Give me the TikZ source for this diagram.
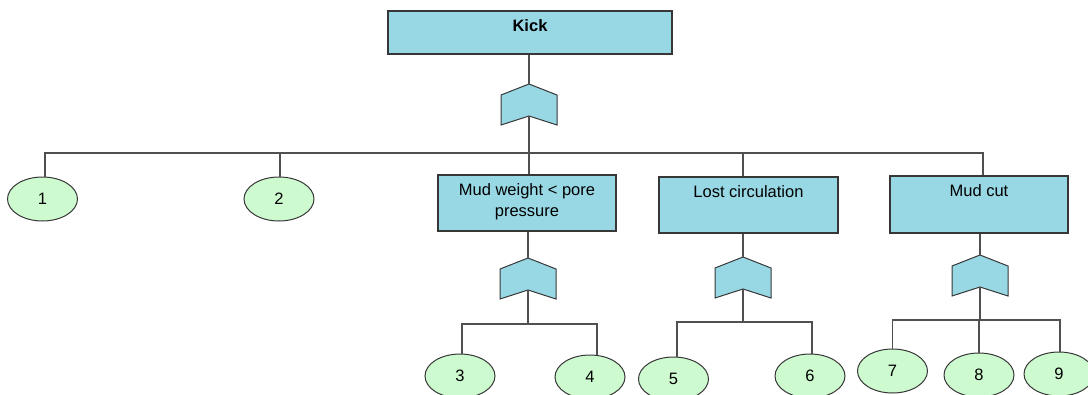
\documentclass[tikz,border=0pt]{standalone}
\usepackage{fontspec}
\setmainfont{Liberation Sans}
\usetikzlibrary{shapes.geometric}
\definecolor{boxblue}{RGB}{152,216,229}
\definecolor{leafgreen}{RGB}{206,250,208}
\definecolor{edgegray}{RGB}{55,55,55}
\definecolor{wiregray}{RGB}{80,80,80}
\begin{document}
\begin{tikzpicture}[x=1pt,y=-1pt,
  every node/.style={font=\fontsize{16.5}{21}\selectfont},
  evbox/.style={draw=edgegray, line width=1.1pt, fill=boxblue, rectangle, inner sep=0},
  evtext/.style={anchor=north, inner sep=0, align=center, text=black},
  leaf/.style={draw=edgegray, line width=1pt, fill=leafgreen, ellipse,
    minimum width=70, minimum height=44, inner sep=0},
  wire/.style={draw=wiregray, line width=1.2pt},
  gate/.pic={
    \draw[draw=edgegray, fill=boxblue, line width=1pt]
      (0,0) -- (28,11) -- (28,41) -- (0,32) -- (-28,41) -- (-28,11) -- cycle;
    \coordinate (-top) at (0,0);
    \coordinate (-bot) at (0,32);
  }
]
\useasboundingbox (0,0) rectangle (1088,394);
\clip (0,0) rectangle (1088,394);

% top event
\node[evbox, minimum width=284, minimum height=43] (kick) at (530,32.5) {};
\node[evtext, font=\fontsize{16.5}{21}\selectfont\bfseries] (kick-t) at ([yshift=-9]kick.north) {Kick};
\pic (g0) at (529,84) {gate};

% intermediate events
\node[evbox, minimum width=178, minimum height=56] (mw) at (527,203) {};
\node[evtext] (mw-t) at ([yshift=-9]mw.north) {Mud weight < pore\\pressure};
\node[evbox, minimum width=179, minimum height=56] (lc) at (748.5,205) {};
\node[evtext] (lc-t) at ([yshift=-9]lc.north) {Lost circulation};
\node[evbox, minimum width=178, minimum height=57] (mc) at (979,204.5) {};
\node[evtext] (mc-t) at ([yshift=-9]mc.north) {Mud cut};

\pic (g1) at (528,258) {gate};
\pic (g2) at (743,257) {gate};
\pic (g3) at (980,255) {gate};

% basic events
\node[leaf] (e1) at (42.5,199) {1};
\node[leaf] (e2) at (279,199) {2};
\node[leaf] (e3) at (460,376) {3};
\node[leaf] (e4) at (590,377) {4};
\node[leaf] (e5) at (673.5,379) {5};
\node[leaf] (e6) at (810,376) {6};
\node[leaf] (e7) at (892.5,371) {7};
\node[leaf] (e8) at (979,375) {8};
\node[leaf] (e9) at (1059,374) {9};

% bus heights
\coordinate (bus) at (529,153);
\coordinate (mwbus) at (528,324);
\coordinate (lcbus) at (743,322);
\coordinate (mcbus) at (980,320);

% top level connectors
\draw[wire] (kick.south -| g0-top) -- (g0-top);
\draw[wire] (g0-bot) -- (g0-bot |- mw.north);
\draw[wire] ([xshift=2.5]e1.north) |- ([xshift=4]mc.north |- bus) -- ([xshift=4]mc.north);
\draw[wire] ([xshift=1]e2.north) -- ([xshift=1]e2.north |- bus);
\draw[wire] ([xshift=-5.5]lc.north) -- ([xshift=-5.5]lc.north |- bus);

% mud weight branch
\draw[wire] (mw.south -| g1-top) -- (g1-top);
\draw[wire] (g1-bot) -- (g1-bot |- mwbus);
\draw[wire] ([xshift=2]e3.north) |- ([xshift=7]e4.north |- mwbus) -- ([xshift=7]e4.north);

% lost circulation branch
\draw[wire] (lc.south -| g2-top) -- (g2-top);
\draw[wire] (g2-bot) -- (g2-bot |- lcbus);
\draw[wire] ([xshift=3.5]e5.north) |- ([xshift=2]e6.north |- lcbus) -- ([xshift=2]e6.north);

% mud cut branch
\draw[wire] (mc.south -| g3-top) -- (g3-top);
\draw[wire] (g3-bot) -- (g3-bot |- mcbus);
\draw[wire] (e7.north) |- ([xshift=1]e9.north |- mcbus) -- ([xshift=1]e9.north);
\draw[wire] (e8.north) -- (e8.north |- mcbus);
\end{tikzpicture}
\end{document}
